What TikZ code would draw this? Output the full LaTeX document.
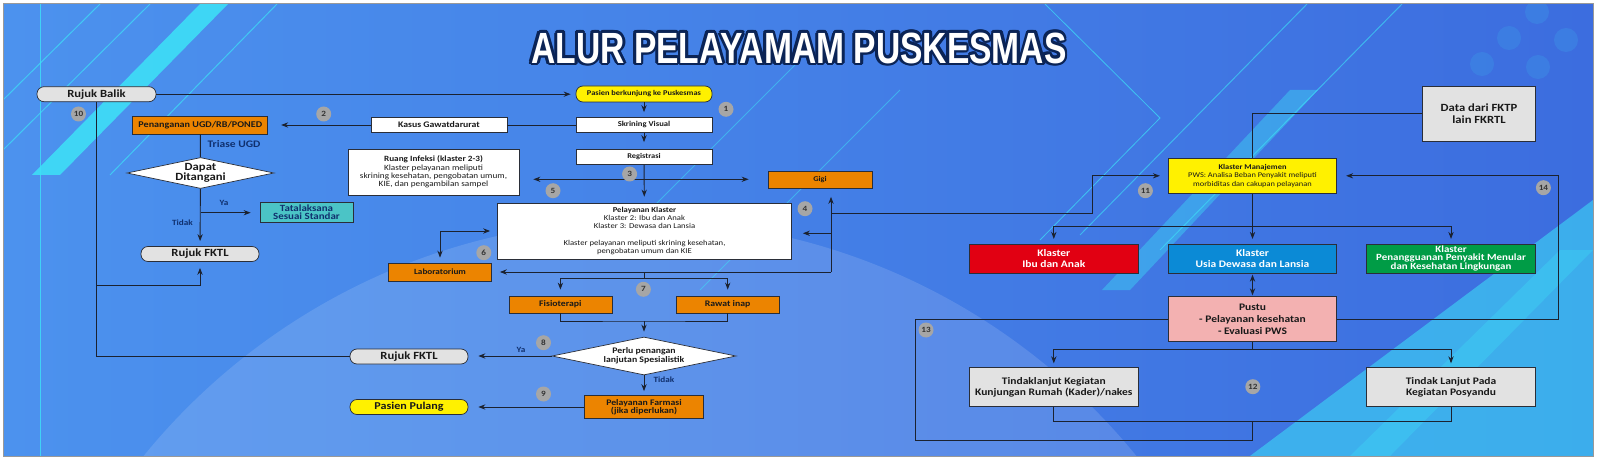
\documentclass[tikz,border=0pt]{standalone}
\usepackage{fontspec}
\usepackage{graphicx}
\setmainfont{Carlito}[FakeStretch=1.15]
\newfontfamily\titlefont{Liberation Sans}
\usetikzlibrary{shapes.geometric, arrows.meta}

\definecolor{bgleft}{HTML}{4C92EE}
\definecolor{bgright}{HTML}{3C6DDF}
\definecolor{stripe}{HTML}{3DE3F7}
\definecolor{flowline}{HTML}{1B2230}
\definecolor{boxline}{HTML}{2A2E38}
\definecolor{orangefill}{HTML}{EC8400}
\definecolor{tealfill}{HTML}{4BC4C6}
\definecolor{yellowfill}{HTML}{FFF100}
\definecolor{grayfill}{HTML}{E2E2E2}
\definecolor{redfill}{HTML}{E10012}
\definecolor{bluefill}{HTML}{0B8AD6}
\definecolor{greenfill}{HTML}{009C46}
\definecolor{pinkfill}{HTML}{F3B1B1}
\definecolor{badgegray}{HTML}{A6A6A6}
\definecolor{labelnavy}{HTML}{10306E}
\definecolor{titlenavy}{HTML}{0B2456}

\newcommand{\fsz}[2]{\fontsize{#1}{#2}\selectfont}
\newcommand{\titletext}{\scalebox{0.8}[1.04]{\titlefont\bfseries\fsz{42}{42}ALUR PELAYAMAM PUSKESMAS}}

\tikzset{
    box/.style={draw=boxline, line width=0.7pt, align=center, inner sep=1pt, text=black!90},
    pill/.style={box, rounded corners=7pt},
    decision/.style={box, diamond, inner sep=0pt, fill=white},
    wh/.style 2 args={minimum width=#1pt, minimum height=#2pt},
    badge/.style={circle, fill=badgegray, inner sep=0pt, minimum size=15pt, font=\fsz{8}{9}\bfseries, text=black!80},
    tag/.style={font=\fsz{8}{9}\bfseries, text=labelnavy},
    flow/.style={line width=0.9pt, draw=flowline}
}

\begin{document}
\begin{tikzpicture}[x=1pt, y=-1pt, >=Stealth]

    \useasboundingbox (0,0) rectangle (1600,465);

    %% Background

    \fill[white] (0,0) rectangle (1600,465);
    \begin{scope}
        \clip (3,4) rectangle (1593,456);
        \fill[left color=bgleft, right color=bgright] (3,4) rectangle (1593,456);
        \fill[white, opacity=0.13] (640,860) circle (640);
        \fill[stripe, opacity=0.55] (1250,456) -- (1593,200) -- (1593,456) -- cycle;
        % Stripes
        \fill[stripe, opacity=0.85] (200,4) -- (228,4) -- (60,175) -- (32,175) -- cycle;
        \fill[stripe, opacity=0.4] (1290,90) -- (1318,90) -- (1130,290) -- (1102,290) -- cycle;
        \fill[stripe, opacity=0.3] (1560,250) -- (1593,250) -- (1390,456) -- (1350,456) -- cycle;
        \draw[stripe, line width=1.2pt, opacity=0.8] (40.7,4) -- (40.7,456);
        \draw[stripe, line width=1pt, opacity=0.7] (100,4) -- (3,100);
        \draw[stripe, line width=1pt, opacity=0.7] (150,4) -- (3,150);
        \draw[stripe, line width=1pt, opacity=0.7] (277,4) -- (110,175);
        \draw[stripe, line width=1pt, opacity=0.6] (1307,4) -- (1080,235);
        \draw[stripe, line width=1pt, opacity=0.6] (1402,4) -- (1160,250);
        \draw[stripe, line width=0.8pt, opacity=0.7] (1045,4) -- (1160,118) -- (1040,240);
        \draw[stripe, line width=0.8pt, opacity=0.5] (800,60) -- (650,210);
        \draw[stripe, line width=0.8pt, opacity=0.5] (900,90) -- (700,290);
        % Dots
        \foreach \dx/\dy in {1537/12, 1509/38, 1566/40, 1482/64, 1538/67}
            \fill[stripe!30!bgright, opacity=0.45] (\dx,\dy) circle (12);
    \end{scope}
    \draw[gray!80, line width=1pt] (3,456) -- (3,4) -- (1593,4) -- (1593,456) -- cycle;

    %% Title

    \foreach \a in {0,30,...,330}
        \node[text=titlenavy] at ([shift={(\a:2.8)}]799,48) {\titletext};
    \node[text=white] (title) at (799,48) {\titletext};

    %% Left column

    % Rujuk balik and emergency branch
    \node[pill, wh={119}{15}, fill=grayfill, font=\fsz{11}{12}\bfseries] (balik) at (96.5,94.2) {Rujuk Balik};
    \node[box, wh={135}{18}, fill=orangefill, font=\fsz{8.8}{9}\bfseries] (ugd) at (200.3,125) {Penanganan UGD/RB/PONED};
    \node[box, wh={136}{15}, fill=white, font=\fsz{8.5}{9}\bfseries] (kasus) at (439,125) {Kasus Gawatdarurat};
    \node[font=\fsz{10}{11}\bfseries, text=labelnavy] (triase) at (234,144) {Triase UGD};
    \node[decision, aspect=4.74, wh={147}{31}, font=\fsz{11}{9}\bfseries] (dapat) at (200.5,173) {Dapat\\Ditangani};
    \node[box, wh={93}{20}, fill=tealfill, text=labelnavy, font=\fsz{9.5}{8}\bfseries] (tata) at (306.5,212.7) {Tatalaksana\\Sesuai Standar};
    \node[tag] (ya1) at (224,203) {Ya};
    \node[tag] (tidak1) at (182.5,223) {Tidak};
    \node[pill, wh={118}{15}, fill=grayfill, font=\fsz{11}{12}\bfseries] (fktlA) at (200,254) {Rujuk FKTL};
    \node[box, wh={171}{46}, fill=white, font=\fsz{8}{8.2}] (infeksi) at (433.5,172)
        {\textbf{Ruang Infeksi (klaster 2-3)}\\Klaster pelayanan meliputi\\skrining kesehatan, pengobatan umum,\\KIE, dan pengambilan sampel};
    \node[box, wh={103}{18}, fill=orangefill, font=\fsz{8}{9}\bfseries] (lab) at (440,272) {Laboratorium};
    \node[pill, wh={118}{15}, fill=grayfill, font=\fsz{11}{12}\bfseries] (fktlB) at (409,356.5) {Rujuk FKTL};
    \node[pill, wh={118}{15}, fill=yellowfill, font=\fsz{10.5}{12}\bfseries] (pulang) at (409,407) {Pasien Pulang};

    %% Middle column

    \node[pill, wh={136}{16}, fill=yellowfill, font=\fsz{7.3}{8}\bfseries] (pasien) at (644,94) {Pasien berkunjung ke Puskesmas};
    \node[box, wh={136}{15}, fill=white, font=\fsz{7.5}{8}\bfseries] (skrining) at (644,125) {Skrining Visual};
    \node[box, wh={136}{15}, fill=white, font=\fsz{7.3}{8}\bfseries] (regis) at (644,157) {Registrasi};
    \node[box, wh={104}{17}, fill=orangefill, font=\fsz{7.3}{8}\bfseries] (gigi) at (820,180) {Gigi};
    \node[box, wh={294}{56}, fill=white, font=\fsz{7.5}{8.3}] (klaster) at (644.5,231)
        {\textbf{Pelayanan Klaster}\\Klaster 2: Ibu dan Anak\\Klaster 3: Dewasa dan Lansia\\[8.3pt]Klaster pelayanan meliputi skrining kesehatan,\\pengobatan umum dan KIE};
    \node[box, wh={103}{17}, fill=orangefill, font=\fsz{8.5}{9}\bfseries] (fisio) at (560.4,304.5) {Fisioterapi};
    \node[box, wh={103}{17}, fill=orangefill, font=\fsz{8.5}{9}\bfseries] (rawat) at (727.7,304.5) {Rawat inap};
    \node[decision, aspect=4.84, wh={184}{38}, font=\fsz{8.5}{9}\bfseries] (perlu) at (644,356) {Perlu penangan\\lanjutan Spesialistik};
    \node[tag] (ya2) at (521,350) {Ya};
    \node[tag] (tidak2) at (664,380) {Tidak};
    \node[box, wh={119.5}{23}, fill=orangefill, font=\fsz{8.5}{8.5}\bfseries] (farmasi) at (644,407) {Pelayanan Farmasi\\(jika diperlukan)};

    %% Right column

    \node[box, wh={112.5}{55.7}, fill=grayfill, font=\fsz{11}{12.7}\bfseries] (data) at (1479,113.8) {Data dari FKTP\\lain FKRTL};
    \node[box, wh={168.5}{35}, fill=yellowfill, font=\fsz{7.3}{8.7}] (manaj) at (1252.5,175.8)
        {\textbf{Klaster Manajemen}\\PWS: Analisa Beban Penyakit meliputi\\morbiditas dan cakupan pelayanan};
    \node[box, wh={168.5}{29}, fill=redfill, text=white, font=\fsz{10}{11.3}\bfseries] (ibu) at (1053.8,258.8) {Klaster\\Ibu dan Anak};
    \node[box, wh={168.5}{29}, fill=bluefill, text=white, font=\fsz{10}{11.3}\bfseries] (usia) at (1252.5,258.8) {Klaster\\Usia Dewasa dan Lansia};
    \node[box, wh={168.5}{29}, fill=greenfill, text=white, font=\fsz{9.5}{8}\bfseries] (ptm) at (1451,258.8)
        {Klaster\\Penangguanan Penyakit Menular\\dan Kesehatan Lingkungan};
    \node[box, wh={168.5}{45}, fill=pinkfill, font=\fsz{10}{12}\bfseries] (pustu) at (1252.5,319.2) {Pustu\\- Pelayanan kesehatan\\- Evaluasi PWS};
    \node[box, wh={168.5}{39}, fill=grayfill, font=\fsz{10}{11.7}\bfseries] (kunjungan) at (1053.8,387.2) {Tindaklanjut Kegiatan\\Kunjungan Rumah (Kader)/nakes};
    \node[box, wh={168.5}{39}, fill=grayfill, font=\fsz{10}{11.7}\bfseries] (posyandu) at (1451,387.2) {Tindak Lanjut Pada\\Kegiatan Posyandu};

    %% Connectors

    % Left
    \draw[flow, ->, shorten >=5pt] (balik.east) -- (balik.east -| pasien.west);
    \draw[flow, ->, shorten >=5pt] (pasien) -- (skrining);
    \draw[flow, ->, shorten >=7pt] (skrining) -- (regis);
    \draw[flow] (skrining) -- (kasus);
    \draw[flow, ->, shorten >=13pt] (kasus) -- (ugd);
    \draw[flow] (ugd) -- (dapat);
    \draw[flow, ->, shorten >=5pt] (dapat) -- (fktlA);
    \draw[flow, ->, shorten >=9pt] (dapat.south |- tata.west) -- (tata.west);
    \draw[flow] (balik) |- (fktlB.west);
    \coordinate (backA) at (96.5,285);
    \draw[flow, ->, shorten >=6pt] (backA) -| (fktlA.south);

    % Registrasi to klaster and side rooms
    \coordinate (hub3) at (644,179.3);
    \draw[flow, ->, shorten >=6pt] (regis) -- (klaster);
    \draw[flow, ->, shorten >=14pt] (hub3) -- (hub3 -| infeksi.east);
    \draw[flow, ->, shorten >=19pt] (hub3) -- (hub3 -| gigi.west);
    \draw[flow, <->, shorten <=5pt, shorten >=7pt] (lab.north) |- (klaster.west);

    % Bottom network of the klaster
    \coordinate (hub4) at (831,272);
    \coordinate (hub11) at (1092,213.3);
    \draw[flow, ->, shorten >=8pt] (hub4) -- (hub4 |- gigi.south);
    \draw[flow, ->, shorten >=8pt] (hub4) -- (hub4 -| lab.east);
    \draw[flow, ->, shorten >=11pt] (hub4 |- 0,233.3) -- (klaster.east |- 0,233.3);
    \draw[flow, ->, shorten >=8pt] (hub4 |- hub11) -- (hub11) |- (manaj.west);

    % Fisioterapi, rawat inap and exit
    \coordinate (hub7) at (644,278.3);
    \coordinate (hub8) at (644,321);
    \draw[flow] (644,272) -- (hub7);
    \draw[flow, ->, shorten >=6pt] (hub7) -| (fisio.north);
    \draw[flow, ->, shorten >=6pt] (hub7) -| (rawat.north);
    \draw[flow] (fisio.south) |- (hub8) -| (rawat.south);
    \draw[flow, ->, shorten >=5pt] (hub8) -- (perlu.north);
    \draw[flow, ->, shorten >=10pt] (perlu.west) -- (perlu.west -| fktlB.east);
    \draw[flow, ->, shorten >=4pt] (perlu.south) -- (farmasi.north);
    \draw[flow, ->, shorten >=10pt] (farmasi.west) -- (farmasi.west -| pulang.east);

    % Right
    \coordinate (hubM) at (1252.5,226);
    \coordinate (hubP) at (1252.5,349.3);
    \coordinate (loop13) at (915.8,440);
    \coordinate (hub12) at (1252.5,421.7);
    \coordinate (loop14) at (1558.6,319.2);
    \draw[flow] (data.west) -| (manaj.north);
    \draw[flow] (manaj.south) -- (hubM);
    \draw[flow, ->, shorten >=5pt] (hubM) -| (ibu.north);
    \draw[flow, ->, shorten >=5pt] (hubM) -- (usia.north);
    \draw[flow, ->, shorten >=5pt] (hubM) -| (ptm.north);
    \draw[flow, <->, shorten <=1pt, shorten >=1pt] (usia.south) -- (pustu.north);
    \draw[flow, ->, shorten >=9pt] (pustu.east) -- (loop14) |- (manaj.east);
    \draw[flow] (pustu.west) -| (loop13) -| (hub12);
    \draw[flow] (pustu.south) -- (hubP);
    \draw[flow, ->, shorten >=4pt] (hubP) -| (kunjungan.north);
    \draw[flow, ->, shorten >=4pt] (hubP) -| (posyandu.north);
    \draw[flow] (kunjungan.south) |- (hub12) -| (posyandu.south);

    %% Step numbers

    \foreach \num/\px/\py in {10/78.5/114, 2/323.7/114, 1/726/109.3, 3/629.6/174, 5/553/190.7,
        4/805/208.7, 6/483.8/252.7, 7/643.4/289.3, 8/543.5/342.7, 9/543.5/394,
        11/1145.4/190.7, 14/1543.4/187.7, 13/926/330, 12/1252.8/386.7}
        \node[badge] (step\num) at (\px,\py) {\num};

\end{tikzpicture}
\end{document}
